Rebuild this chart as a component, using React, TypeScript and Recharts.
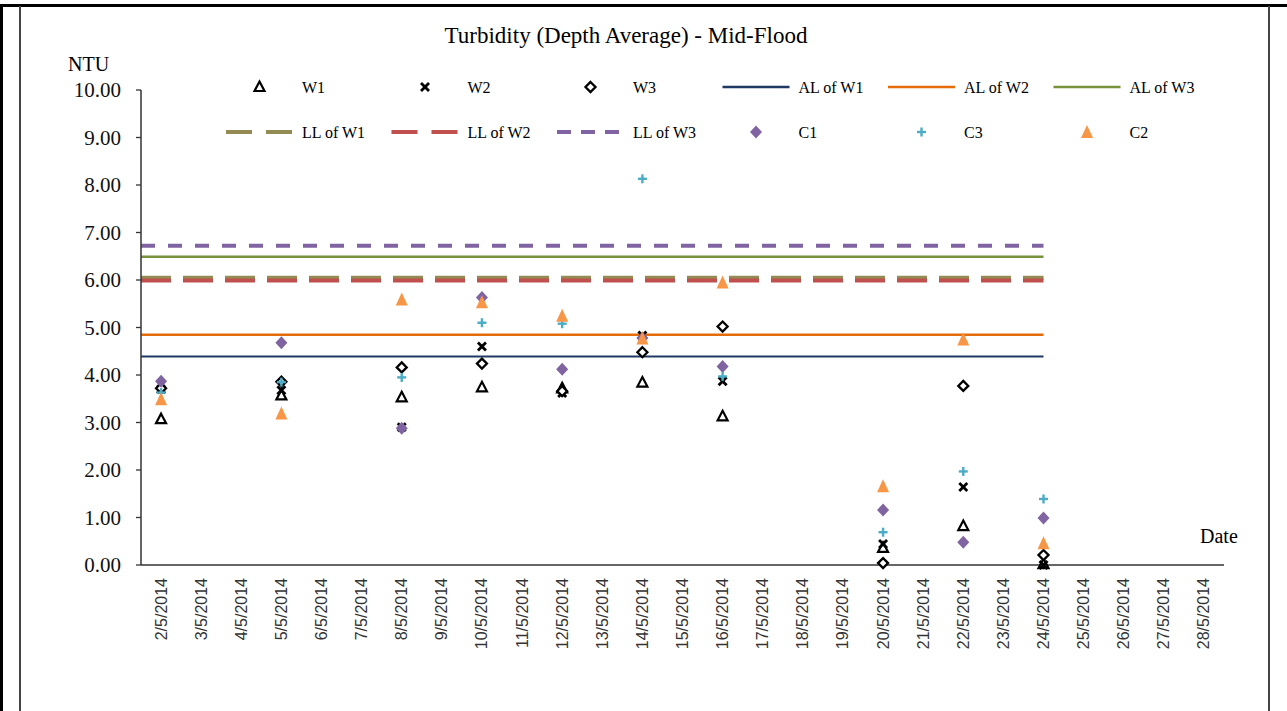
import React from 'react';
import { ComposedChart, Line, Scatter, XAxis, YAxis } from 'recharts';

// sampling days in May 2014
const days = [2, 5, 8, 10, 12, 14, 16, 20, 22, 24];

const w1 = [3.07, 3.57, 3.53, 3.74, 3.72, 3.84, 3.13, 0.36, 0.82, 0.02];
const w2 = [3.7, 3.68, 2.9, 4.6, 3.62, 4.83, 3.87, 0.44, 1.64, 0.0];
const w3 = [3.72, 3.86, 4.16, 4.24, 3.66, 4.48, 5.02, 0.04, 3.77, 0.21];
const c1 = [3.87, 4.68, 2.88, 5.63, 4.12, 4.78, 4.18, 1.16, 0.48, 0.99];
const c3 = [3.63, 3.85, 3.95, 5.1, 5.08, 8.13, 3.97, 0.69, 1.97, 1.39];
const c2 = [3.49, 3.19, 5.59, 5.53, 5.25, 4.77, 5.95, 1.66, 4.75, 0.46];

// action / limit levels
const alLevels = [4.39, 4.85, 6.49];
const llLevels = [6.05, 5.99, 6.72];
const limitSpan = [1.5, 24];

const dateTicks = [2, 3, 4, 5, 6, 7, 8, 9, 10, 11, 12, 13, 14, 15, 16, 17, 18, 19, 20, 21, 22, 23, 24, 25, 26, 27, 28];
const yTicks = [0, 1, 2, 3, 4, 5, 6, 7, 8, 9, 10];

const edgeTicks = [...dateTicks.map((d) => d - 0.5), dateTicks[dateTicks.length - 1] + 0.5];
const xDomain = [edgeTicks[0], edgeTicks[edgeTicks.length - 1]];

const rows = days.map((d, i) => ({
  day: d,
  W1: w1[i],
  W2: w2[i],
  W3: w3[i],
  C1: c1[i],
  C3: c3[i],
  C2: c2[i],
}));

const limitRows = (v: number) => limitSpan.map((d) => ({ day: d, value: v }));

const SERIF = '"Liberation Serif", "Times New Roman", serif';

type MarkerKind = 'triOpen' | 'cross' | 'diaOpen' | 'diaFill' | 'plus' | 'triFill';

function Marker({ kind, cx, cy }: { kind: MarkerKind; cx: number; cy: number }) {
  if (cx == null || cy == null) return null;
  switch (kind) {
    case 'triOpen':
      return (
        <polygon
          points={`${cx},${cy - 5.5} ${cx + 5},${cy + 4} ${cx - 5},${cy + 4}`}
          fill="#fff"
          stroke="#000"
          strokeWidth={2.2}
        />
      );
    case 'cross':
      return (
        <g stroke="#000" strokeWidth={2.8}>
          <line x1={cx - 4} y1={cy - 4} x2={cx + 4} y2={cy + 4} />
          <line x1={cx - 4} y1={cy + 4} x2={cx + 4} y2={cy - 4} />
        </g>
      );
    case 'diaOpen':
      return (
        <polygon
          points={`${cx},${cy - 5} ${cx + 5},${cy} ${cx},${cy + 5} ${cx - 5},${cy}`}
          fill="#fff"
          stroke="#000"
          strokeWidth={2.3}
        />
      );
    case 'diaFill':
      return (
        <polygon
          points={`${cx},${cy - 6.5} ${cx + 6},${cy} ${cx},${cy + 6.5} ${cx - 6},${cy}`}
          fill="#8064A2"
        />
      );
    case 'plus':
      return (
        <g stroke="#4BACC6" strokeWidth={2.4}>
          <line x1={cx - 4.5} y1={cy} x2={cx + 4.5} y2={cy} />
          <line x1={cx} y1={cy - 4.5} x2={cx} y2={cy + 4.5} />
        </g>
      );
    case 'triFill':
      return (
        <polygon
          points={`${cx},${cy - 7} ${cx + 6},${cy + 6} ${cx - 6},${cy + 6}`}
          fill="#F79646"
        />
      );
  }
  return null;
}

const markerSeries: { key: string; kind: MarkerKind }[] = [
  { key: 'W1', kind: 'triOpen' },
  { key: 'W2', kind: 'cross' },
  { key: 'W3', kind: 'diaOpen' },
  { key: 'C1', kind: 'diaFill' },
  { key: 'C3', kind: 'plus' },
  { key: 'C2', kind: 'triFill' },
];

const lineSeries = [
  { name: 'AL of W1', level: alLevels[0], color: '#1F3864', width: 2.2, dash: undefined, legendDash: undefined },
  { name: 'AL of W2', level: alLevels[1], color: '#E46C0A', width: 2.5, dash: undefined, legendDash: undefined },
  { name: 'AL of W3', level: alLevels[2], color: '#77933C', width: 2.5, dash: undefined, legendDash: undefined },
  { name: 'LL of W1', level: llLevels[0], color: '#948A54', width: 4, dash: '30 12', legendDash: '26 14' },
  { name: 'LL of W2', level: llLevels[1], color: '#C0504D', width: 4, dash: '30 12', legendDash: '26 14' },
  { name: 'LL of W3', level: llLevels[2], color: '#8064A2', width: 4, dash: '14 13', legendDash: '14 10' },
];

const legendOrder: string[] = [
  'W1', 'W2', 'W3', 'AL of W1', 'AL of W2', 'AL of W3',
  'LL of W1', 'LL of W2', 'LL of W3', 'C1', 'C3', 'C2',
];

function ChartLegend() {
  return (
    <svg width={1287} height={160} style={{ position: 'absolute', left: 0, top: 0, pointerEvents: 'none' }}>
      {legendOrder.map((name, i) => {
        const row = Math.floor(i / 6);
        const col = i % 6;
        const x0 = 226 + col * 165.5;
        const cy = 87 + row * 45;
        const m = markerSeries.find((s) => s.key === name);
        const l = lineSeries.find((s) => s.name === name);
        return (
          <g key={name}>
            {m && <Marker kind={m.kind} cx={x0 + 33.5} cy={cy} />}
            {l && (
              <line
                x1={x0}
                x2={x0 + 67}
                y1={cy}
                y2={cy}
                stroke={l.color}
                strokeWidth={l.dash ? 4 : 2.5}
                strokeDasharray={l.legendDash}
              />
            )}
            <text x={x0 + 76} y={cy} dominantBaseline="central" fontFamily={SERIF} fontSize={16} fill="#000">
              {name}
            </text>
          </g>
        );
      })}
    </svg>
  );
}

function DateTick(props: any) {
  const { x, y, payload } = props;
  return (
    <text
      x={x}
      y={y}
      transform={`rotate(-90, ${x}, ${y})`}
      textAnchor="end"
      dominantBaseline="central"
      fontFamily='"Liberation Sans", Arial, sans-serif'
      fontSize={16}
      fill="#333"
    >
      {`${payload.value}/5/2014`}
    </text>
  );
}

export default function App() {
  return (
    <div style={{ position: 'absolute', left: 0, top: 0, width: 1287, height: 711, background: '#fff', overflow: 'hidden' }}>
      {/* outer frame */}
      <div style={{ position: 'absolute', left: 0, top: 4, width: 1287, height: 2.5, background: '#000' }} />
      <div style={{ position: 'absolute', left: 0, top: 4, width: 3, height: 707, background: '#000' }} />
      <div
        style={{
          position: 'absolute',
          left: 19,
          top: 6,
          width: 1247,
          height: 705,
          borderLeft: '2px solid #444',
          borderRight: '2px solid #444',
        }}
      />

      <div style={{ position: 'absolute', left: 0, top: 0 }}>
        <ComposedChart width={1287} height={711} data={rows} margin={{ top: 90, right: 63, bottom: 56, left: 61 }}>
          <XAxis
            xAxisId="edges"
            type="number"
            dataKey="day"
            domain={xDomain}
            ticks={edgeTicks}
            tick={false}
            tickLine={{ stroke: '#333', strokeWidth: 1.3 }}
            tickSize={6}
            axisLine={false}
            height={1}
            allowDataOverflow
          />
          <XAxis
            xAxisId="dates"
            type="number"
            dataKey="day"
            domain={xDomain}
            ticks={dateTicks}
            tick={<DateTick />}
            tickLine={false}
            tickSize={6}
            tickMargin={7}
            axisLine={{ stroke: '#333', strokeWidth: 1.5 }}
            height={89}
            interval={0}
            allowDataOverflow
          />
          <YAxis
            type="number"
            domain={[0, 10]}
            ticks={yTicks}
            interval={0}
            width={80}
            tickSize={5}
            tickMargin={15}
            tickFormatter={(v: number) => v.toFixed(2)}
            tick={{ fontFamily: SERIF, fontSize: 21, fill: '#111' }}
            tickLine={{ stroke: '#333', strokeWidth: 1.3 }}
            axisLine={{ stroke: '#333', strokeWidth: 1.5 }}
          />
          {lineSeries.map((s) => (
            <Line
              key={s.name}
              xAxisId="dates"
              data={limitRows(s.level)}
              dataKey="value"
              name={s.name}
              stroke={s.color}
              strokeWidth={s.width}
              strokeDasharray={s.dash}
              dot={false}
              activeDot={false}
              isAnimationActive={false}
            />
          ))}
          {markerSeries.map((s) => (
            <Scatter
              key={s.key}
              xAxisId="dates"
              dataKey={s.key}
              name={s.key}
              isAnimationActive={false}
              shape={(p: any) => <Marker kind={s.kind} cx={p.cx} cy={p.cy} />}
            />
          ))}
        </ComposedChart>
      </div>

      <ChartLegend />

      <div
        style={{
          position: 'absolute',
          left: 0,
          width: 1252,
          top: 23,
          textAlign: 'center',
          fontFamily: SERIF,
          fontSize: 23,
          color: '#000',
        }}
      >
        Turbidity (Depth Average) - Mid-Flood
      </div>
      <div style={{ position: 'absolute', left: 68, top: 53, fontFamily: SERIF, fontSize: 20, color: '#000' }}>NTU</div>
      <div style={{ position: 'absolute', left: 1200, top: 525, fontFamily: SERIF, fontSize: 20, color: '#000' }}>Date</div>
    </div>
  );
}
